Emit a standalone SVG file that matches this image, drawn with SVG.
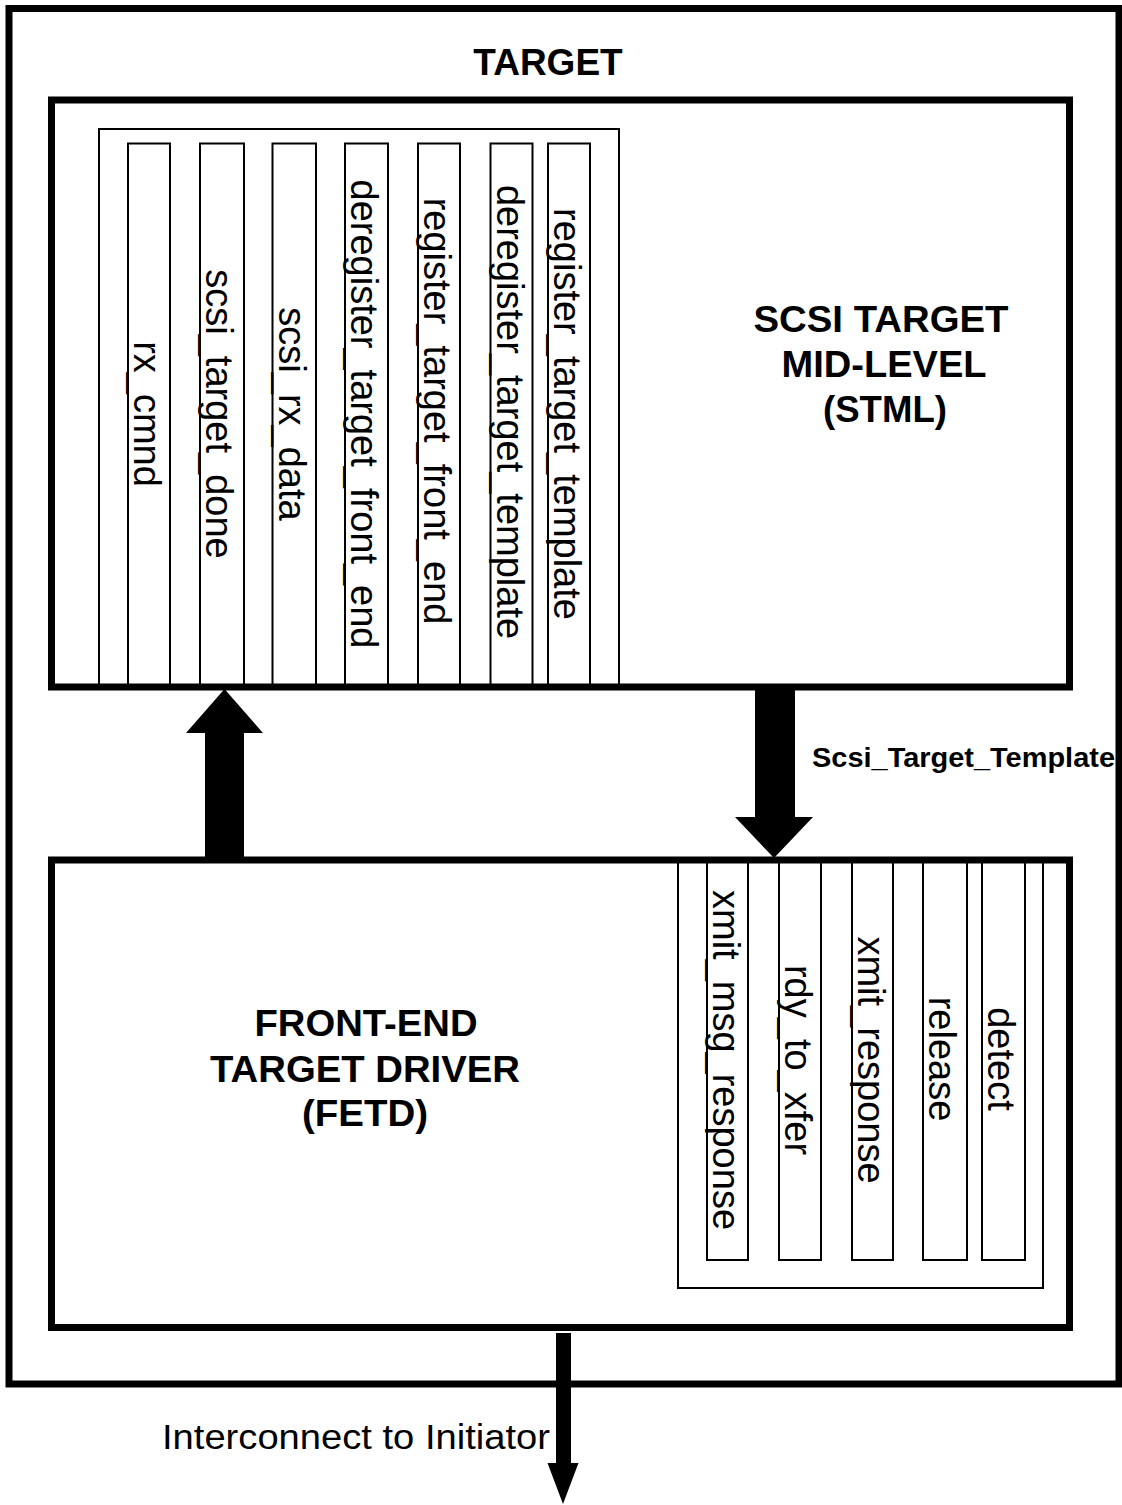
<svg xmlns="http://www.w3.org/2000/svg" width="1122" height="1505" viewBox="0 0 1122 1505">
<style>
  .thick { fill: none; stroke: #000; stroke-width: 7; }
  .col { fill: none; stroke: #000; stroke-width: 2; }
  .vt { font-family: "Liberation Sans", Arial, sans-serif; font-size: 38px; fill: #000; text-anchor: middle; }
  .bold { font-family: "Liberation Sans", Arial, sans-serif; font-weight: bold; fill: #000; text-anchor: middle; }
  .arrow { fill: #000; stroke: none; }
</style>
<rect width="1122" height="1505" fill="#fff"/>

<g id="target">
  <rect class="thick" x="9" y="8.5" width="1110" height="1375.5"/>
  <text class="bold" x="548" y="75" font-size="37">TARGET</text>
</g>

<g id="stml">
  <rect class="thick" x="51.5" y="100" width="1018" height="587"/>
  <rect class="col" x="99" y="129" width="520" height="558"/>
  <text class="bold" x="881" y="332" font-size="37" textLength="255" lengthAdjust="spacingAndGlyphs">SCSI TARGET</text>
  <text class="bold" x="884" y="377" font-size="37" textLength="205" lengthAdjust="spacingAndGlyphs">MID-LEVEL</text>
  <text class="bold" x="885" y="422" font-size="37" textLength="124" lengthAdjust="spacingAndGlyphs">(STML)</text>
</g>

<g id="stml-rx_cmnd">
  <rect class="col" x="128" y="143.5" width="42" height="543.5"/>
  <text class="vt" transform="translate(134 414) rotate(90)">rx_cmnd</text>
</g>
<g id="stml-scsi_target_done">
  <rect class="col" x="200" y="143.5" width="44" height="543.5"/>
  <text class="vt" transform="translate(206 414) rotate(90)">scsi_target_done</text>
</g>
<g id="stml-scsi_rx_data">
  <rect class="col" x="272.5" y="143.5" width="43.5" height="543.5"/>
  <text class="vt" transform="translate(278.5 414) rotate(90)">scsi_rx_data</text>
</g>
<g id="stml-deregister_target_front_end">
  <rect class="col" x="345" y="143.5" width="43" height="543.5"/>
  <text class="vt" transform="translate(351 414) rotate(90)">deregister_target_front_end</text>
</g>
<g id="stml-register_target_front_end">
  <rect class="col" x="418" y="143.5" width="42" height="543.5"/>
  <text class="vt" transform="translate(424 411) rotate(90)">register_target_front_end</text>
</g>
<g id="stml-deregister_target_template">
  <rect class="col" x="490.5" y="143.5" width="42" height="543.5"/>
  <text class="vt" transform="translate(496.5 412) rotate(90)">deregister_target_template</text>
</g>
<g id="stml-register_target_template">
  <rect class="col" x="548" y="143.5" width="42" height="543.5"/>
  <text class="vt" transform="translate(554 414) rotate(90)">register_target_template</text>
</g>

<g id="fetd">
  <rect class="thick" x="51.5" y="860" width="1018" height="467.5"/>
  <rect class="col" x="678" y="860" width="365" height="428"/>
  <text class="bold" x="366" y="1036" font-size="37" textLength="223" lengthAdjust="spacingAndGlyphs">FRONT-END</text>
  <text class="bold" x="365" y="1082" font-size="37" textLength="310" lengthAdjust="spacingAndGlyphs">TARGET DRIVER</text>
  <text class="bold" x="365" y="1126" font-size="37" textLength="126" lengthAdjust="spacingAndGlyphs">(FETD)</text>
</g>

<g id="fetd-xmit_msg_response">
  <rect class="col" x="707" y="860" width="41" height="400"/>
  <text class="vt" transform="translate(713 1060) rotate(90)">xmit_msg_response</text>
</g>
<g id="fetd-rdy_to_xfer">
  <rect class="col" x="779" y="860" width="42" height="400"/>
  <text class="vt" transform="translate(785 1060) rotate(90)">rdy_to_xfer</text>
</g>
<g id="fetd-xmit_response">
  <rect class="col" x="852" y="860" width="41" height="400"/>
  <text class="vt" transform="translate(858 1060) rotate(90)">xmit_response</text>
</g>
<g id="fetd-release">
  <rect class="col" x="923" y="860" width="44" height="400"/>
  <text class="vt" transform="translate(929 1059) rotate(90)">release</text>
</g>
<g id="fetd-detect">
  <rect class="col" x="982" y="860" width="43" height="400"/>
  <text class="vt" transform="translate(988 1059) rotate(90)">detect</text>
</g>

<g id="connectors">
  <polygon class="arrow" points="205,861 205,733 186,733 224.5,689 263,733 244,733 244,861"/>
  <polygon class="arrow" points="755,688 795,688 795,817 813,817 774,858 735,817 755,817"/>
  <text class="bold" x="812" y="767" font-size="28" style="text-anchor:start" textLength="303" lengthAdjust="spacingAndGlyphs">Scsi_Target_Template</text>
  <polygon class="arrow" points="556,1333 571,1333 571,1463 578.5,1463 563,1504 547.5,1463 556,1463"/>
  <text x="162" y="1449" font-family="Liberation Sans, Arial, sans-serif" font-size="35" textLength="388" lengthAdjust="spacingAndGlyphs" fill="#000">Interconnect to Initiator</text>
</g>
</svg>
